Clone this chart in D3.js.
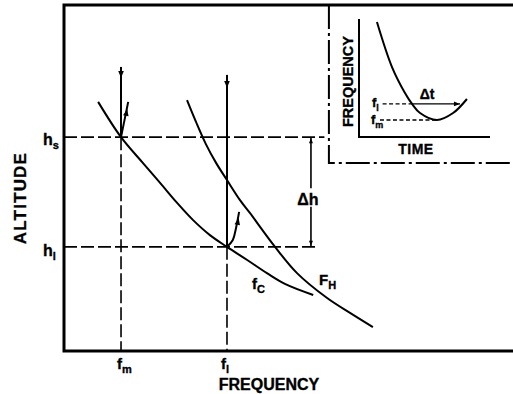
<!DOCTYPE html>
<html>
<head>
<meta charset="utf-8">
<script src="https://cdn.jsdelivr.net/npm/d3@7"></script>
<style>
  body { margin: 0; background: #fff; }
  svg text { font-family: "Liberation Sans", Arial, sans-serif; font-weight: bold; fill: #000; stroke: #000; stroke-width: 0.35px; }
</style>
</head>
<body>
<svg id="chart" width="513" height="394"></svg>
<script>
// main diagram: frequency (x) and altitude (y), both in arbitrary units 0-100
const fm = 12.7, fl = 36.3;
const hs = 61.8, hl = 30.1;

// critical frequency curve f_c and F_H curve
const fcCurve = [[7.6, 72.0], [12.7, 61.8], [17.6, 54.3], [21.4, 48.6], [25.2, 42.8], [28.7, 37.9],
                 [32.5, 33.5], [36.3, 30.1], [40.8, 26.3], [45.2, 22.5], [49.2, 19.4], [55.5, 16.2]];
const fhCurve = [[27.4, 72.5], [29.4, 66.2], [31.6, 59.8], [33.9, 54.3], [36.3, 49.4], [39.2, 43.6],
                 [41.4, 39.9], [47.0, 30.1], [51.9, 22.5], [58.6, 15.3], [63.7, 11.0], [68.8, 6.9]];

// rays: incident (downward) and reflected
const rayFmDown = [[fm, 82.1], [fm, hs]];
const rayFmUp = [[fm, hs], [14.3, 72.0]];
const rayFlDown = [[fl, 79.8], [fl, hl]];
const rayFlUp = [[fl, hl], [37.6, 32.1], [38.3, 35.5], [39.0, 40.2]];

const dhX = 55.0;          // delta-h marker position
const insetCorner = [59.0, 54.3];

// inset: frequency vs time
const insetCurve = [[1.37, 9.75], [2.52, 5.93], [3.51, 3.73], [4.05, 2.80], [4.66, 2.03],
                    [5.95, 1.44], [7.18, 2.03], [8.24, 3.22]];
const insetFl = 2.80, insetFm = 1.44;
const insetFlCross = [4.05, 7.86];   // time where f_l meets the curve (both branches)
const insetFmCross = 5.95;

const svg = d3.select('#chart');
const x = d3.scaleLinear().domain([0, 100]).range([64, 513]);
const y = d3.scaleLinear().domain([0, 100]).range([351, 5]);
const tx = d3.scaleLinear().domain([0, 10]).range([359, 490]);
const fy = d3.scaleLinear().domain([0, 10]).range([137, 19]);

const line = d3.line().x(d => x(d[0])).y(d => y(d[1]));
const smooth = d3.line().x(d => x(d[0])).y(d => y(d[1])).curve(d3.curveCatmullRom);

function arrowHead(px, py, angle, size = 7) {
    // triangle pointing in direction angle (degrees, 0 = right, 90 = down)
    svg.append('path')
        .attr('d', `M0,0 L${-size},${-size * 0.4} L${-size},${size * 0.4} Z`)
        .attr('transform', `translate(${px},${py}) rotate(${angle})`)
        .attr('fill', '#000');
}

function subLabel(px, py, main, sub, size = 15, anchor = 'start') {
    const t = svg.append('text')
        .attr('x', px).attr('y', py)
        .attr('text-anchor', anchor)
        .style('font-size', size + 'px');
    t.append('tspan').text(main);
    t.append('tspan').text(sub).attr('dy', 4).style('font-size', Math.round(size * 0.7) + 'px');
}

// frame
svg.append('path')
    .attr('d', `M${x(100)},${y(100)} H${x(0)} V${y(0)} H${x(100)}`)
    .attr('fill', 'none').attr('stroke', '#000').attr('stroke-width', 3);

// dashed guide lines
const dashed = [
    [[0, hs], [dhX + 3, hs]],
    [[0, hl], [dhX + 1.2, hl]],
    [[fm, hs], [fm, 0]],
    [[fl, hl], [fl, 0]]
];
svg.selectAll('.guide').data(dashed).enter().append('path')
    .attr('class', 'guide')
    .attr('d', line)
    .attr('fill', 'none').attr('stroke', '#000').attr('stroke-width', 1.6)
    .attr('stroke-dasharray', '13,4');

// curves
[fcCurve, fhCurve].forEach(c => {
    svg.append('path').attr('d', smooth(c))
        .attr('fill', 'none').attr('stroke', '#000').attr('stroke-width', 2);
});

// rays
[rayFmDown, rayFmUp, rayFlDown].forEach(r => {
    svg.append('path').attr('d', line(r))
        .attr('fill', 'none').attr('stroke', '#000').attr('stroke-width', 2);
});
svg.append('path').attr('d', smooth(rayFlUp))
    .attr('fill', 'none').attr('stroke', '#000').attr('stroke-width', 2);

arrowHead(x(fm), y(rayFmDown[0][1]) + 11, 90);
arrowHead(x(fl), y(rayFlDown[0][1]) + 13, 90);
{
    const a = Math.atan2(y(rayFmUp[1][1]) - y(rayFmUp[0][1]), x(rayFmUp[1][0]) - x(rayFmUp[0][0])) * 180 / Math.PI;
    arrowHead(x(rayFmUp[1][0]) - 1, y(rayFmUp[1][1]) + 7, a);
    const b = rayFlUp[rayFlUp.length - 1], c = rayFlUp[rayFlUp.length - 2];
    const a2 = Math.atan2(y(b[1]) - y(c[1]), x(b[0]) - x(c[0])) * 180 / Math.PI;
    arrowHead(x(b[0]) - 0.5, y(b[1]) + 6, a2);
}

// delta h
svg.append('path').attr('d', `M${x(dhX)},${y(hs)} V${y(hs) + 51} M${x(dhX)},${y(hl)} V${y(hl) - 40}`)
    .attr('stroke', '#000').attr('stroke-width', 1.6);
arrowHead(x(dhX), y(hs) + 1, -90, 5);
arrowHead(x(dhX), y(hl) - 1, 90, 5);
svg.append('text').attr('x', x(dhX) - 3).attr('y', y(hs) + 68)
    .attr('text-anchor', 'middle').style('font-size', '16px').text('\u0394h');

// inset border (dash-dot)
svg.append('path')
    .attr('d', `M${x(insetCorner[0])},${y(100)} V${y(insetCorner[1])} H${x(100)}`)
    .attr('fill', 'none').attr('stroke', '#000').attr('stroke-width', 2)
    .attr('stroke-dasharray', '24,4,3,4');

// inset axes
svg.append('path')
    .attr('d', `M${tx(0)},${fy(10)} V${fy(0)} H${tx(10)}`)
    .attr('fill', 'none').attr('stroke', '#000').attr('stroke-width', 2);
svg.append('path')
    .attr('d', d3.line().x(d => tx(d[0])).y(d => fy(d[1])).curve(d3.curveCatmullRom)(insetCurve))
    .attr('fill', 'none').attr('stroke', '#000').attr('stroke-width', 2);
svg.append('path')
    .attr('d', `M${tx(1.8)},${fy(insetFl)} H${tx(insetFlCross[0])} M${tx(1.6)},${fy(insetFm)} H${tx(insetFmCross)}`)
    .attr('stroke', '#000').attr('stroke-width', 1.3).attr('stroke-dasharray', '4,2.5');
svg.append('path')
    .attr('d', `M${tx(insetFlCross[0])},${fy(insetFl)} H${tx(insetFlCross[1]) - 2}`)
    .attr('stroke', '#000').attr('stroke-width', 1.3);
arrowHead(tx(insetFlCross[1]) - 2, fy(insetFl), 0, 6);
svg.append('text').attr('x', tx(5.2)).attr('y', fy(insetFl) - 5)
    .attr('text-anchor', 'middle').style('font-size', '14px').text('\u0394t');
subLabel(tx(0) + 13, fy(insetFl) + 3, 'f', 'l', 13);
subLabel(tx(0) + 12, fy(insetFm) + 4, 'f', 'm', 13);
svg.append('text').attr('x', tx(4.35)).attr('y', fy(0) + 17)
    .attr('text-anchor', 'middle').style('font-size', '14px').style('letter-spacing', '0.5px').text('TIME');
svg.append('text')
    .attr('transform', `translate(${tx(0) - 6},${fy(4.7)}) rotate(-90)`)
    .attr('text-anchor', 'middle').style('font-size', '14.5px').text('FREQUENCY');

// axis labels
svg.append('text').attr('x', 269).attr('y', 390)
    .attr('text-anchor', 'middle').style('font-size', '16px').text('FREQUENCY');
svg.append('text')
    .attr('transform', `translate(26,${y(44.2)}) rotate(-90)`)
    .attr('text-anchor', 'middle').style('font-size', '17px').style('letter-spacing', '1.2px').text('ALTITUDE');

subLabel(43, y(hs) + 8, 'h', 's', 16);
subLabel(43, y(hl) + 9, 'h', 'l', 16);
subLabel(x(fm) - 4, y(0) + 18, 'f', 'm', 15);
subLabel(x(fl) - 6, y(0) + 18, 'f', 'l', 15);
subLabel(252, 289, 'f', 'C', 15);
subLabel(319, 285, 'F', 'H', 15);
</script>
</body>
</html>
